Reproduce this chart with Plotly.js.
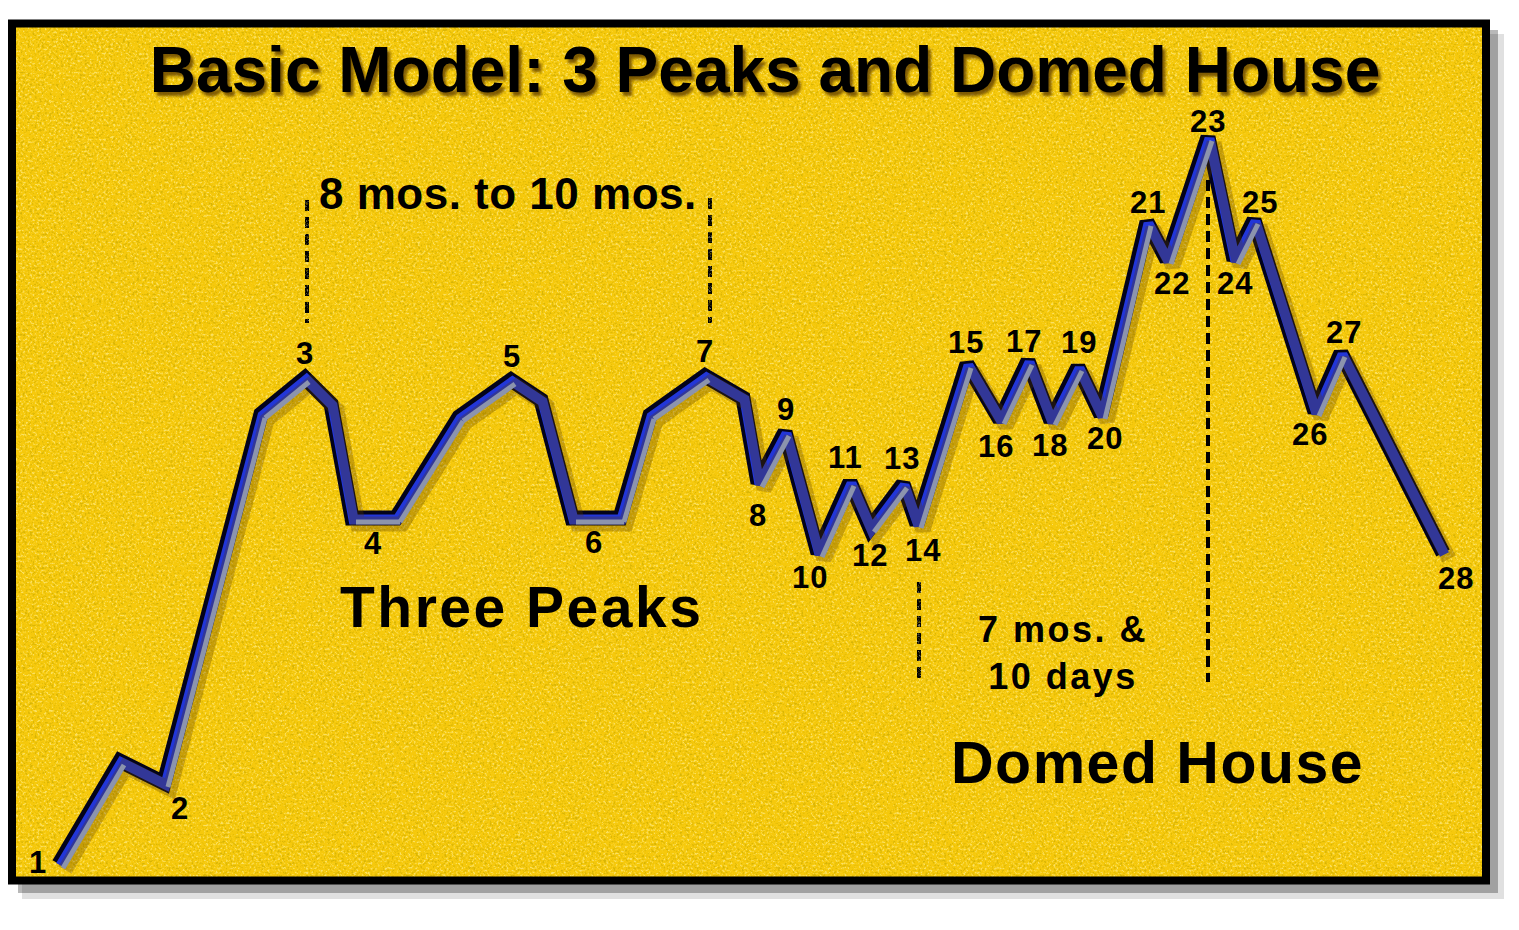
<!DOCTYPE html>
<html>
<head>
<meta charset="utf-8">
<script src="https://cdn.plot.ly/plotly-3.0.1.min.js"></script>
<style>
html,body{margin:0;padding:0;background:#fff;}
#chart{width:1519px;height:930px;}
.gtitle{ text-shadow: 3px 4px 3px rgba(105,70,0,0.85); }
</style>
</head>
<body>
<div id="chart"></div>
<script>
// ---- data: vertices of the schematic path (time units, level units) ----
const pathX = [43,104,148,245,289,315,336,380,443,495,525,556,604,634,689,727,742,769,802,834,854,887,901,951,984,1012,1035,1062,1085,1131,1151,1192,1218,1238,1299,1325,1427];
const pathY = [13,116,94,463,499,473,359,359,460,497,477,359,359,462,501,479,394,445,324,395,349,393,353,513,457,516,456,510,462,655,617,740,617,657,465,524,324];
const pointLabels = ['1','','2','','3','','4','','','5','','6','','','7','','8','9','10','11','12','13','14','15','16','17','18','19','20','21','22','23','24','25','26','27','28'];

// label offsets (pixels: right, up) for the numbered points
const labelDX = [-21,0,16,0,0,0,21,0,0,1,0,22,0,0,0,0,0,1,-8,-5,0,-1,6,-1,-4,-4,-1,1,4,1,5,0,1,6,-5,3,13];
const labelDY = [2,0,-25,0,25,0,-25,0,0,24,0,-24,0,0,25,0,-32,23,-24,25,-27,26,-26,22,-26,20,-24,25,-23,20,-23,16,-23,18,-22,21,-25];

// text captions
const titleText = 'Basic Model: 3 Peaks and Domed House';
const captions = [
  {text:'8 mos. to 10 mos.', x:492, y:684, size:44, spacing:0.5},
  {text:'Three Peaks', x:505, y:270, size:57, spacing:2.5},
  {text:'7 mos. &<br>10 days', x:1047, y:224, size:36, spacing:2.5},
  {text:'Domed House', x:1141, y:114, size:59, spacing:1.5}
];
// dashed time markers: [x, yTop, yBottom, layer]
const markers = [
  [291, 677, 554, 'below'],
  [694, 679, 554, 'below'],
  [903, 295, 195, 'below'],
  [1192, 697, 195, 'above']
];

// ---- layout geometry ----
const W = 1519, H = 930;
const mL = 16, mR = 37, mT = 27, mB = 53;
const PW = W - mL - mR, PH = H - mT - mB;
const px2paperX = p => (p - mL) / PW;
const px2paperY = p => (H - mB - p) / PH;
const FONT = 'Liberation Sans, Arial, Helvetica, sans-serif';

// rising / flat segments get the light highlight
const hiX = [], hiY = [];
for (let i = 0; i < pathX.length - 1; i++) {
  if (pathY[i + 1] >= pathY[i]) {
    hiX.push(pathX[i], pathX[i + 1], null);
    hiY.push(pathY[i], pathY[i + 1], null);
  }
}

const traces = [
  {x: pathX, y: pathY, mode: 'lines', xaxis: 'x4', yaxis: 'y4',
   line: {color: 'rgba(90,60,0,0.30)', width: 15}, hoverinfo: 'skip'},
  {x: pathX, y: pathY, mode: 'lines',
   line: {color: '#03031a', width: 15}, hoverinfo: 'skip'},
  {x: pathX, y: pathY, mode: 'lines', xaxis: 'x2', yaxis: 'y2',
   line: {color: '#2236d8', width: 10}, hoverinfo: 'skip'},
  {x: hiX, y: hiY, mode: 'lines', xaxis: 'x3', yaxis: 'y3', connectgaps: false,
   line: {color: '#a2baf8', width: 5}, hoverinfo: 'skip'}
];

const baseAxis = {visible: false, showgrid: false, zeroline: false, fixedrange: true};
function shiftedX(d) { return Object.assign({}, baseAxis, {range: [0 - d, PW - d], overlaying: 'x'}); }
function shiftedY(d) { return Object.assign({}, baseAxis, {range: [0 + d, PH + d], overlaying: 'y'}); }

const annotations = [];
pointLabels.forEach((t, i) => {
  if (!t) return;
  annotations.push({x: pathX[i], y: pathY[i], xref: 'x', yref: 'y',
    text: '<span style="letter-spacing:1px">' + t + '</span>', showarrow: false,
    xshift: labelDX[i], yshift: labelDY[i], xanchor: 'center', yanchor: 'middle',
    font: {family: FONT, size: 31, color: '#000', weight: 'bold'}});
});
captions.forEach(c => {
  const txt = c.text.split('<br>').map(s => '<span style="letter-spacing:' + c.spacing + 'px">' + s + '</span>').join('<br>');
  annotations.push({x: c.x, y: c.y, xref: 'x', yref: 'y', text: txt, showarrow: false,
    xanchor: 'center', yanchor: 'middle', align: 'center',
    font: {family: FONT, size: c.size, color: '#000', weight: 'bold'}});
});

const shapes = [];
function poly(pts) {
  return 'M' + pts.map(p => px2paperX(p[0]).toFixed(5) + ',' + px2paperY(p[1]).toFixed(5)).join(' L') + ' Z';
}
// outer drop shadow (outside the frame)
shapes.push({type: 'path', xref: 'paper', yref: 'paper', layer: 'below', line: {width: 0},
  fillcolor: 'rgba(0,0,0,0.12)',
  path: poly([[1488,34],[1504,34],[1504,899],[22,899],[22,882],[1488,882]])});
shapes.push({type: 'path', xref: 'paper', yref: 'paper', layer: 'below', line: {width: 0},
  fillcolor: 'rgba(0,0,0,0.28)',
  path: poly([[1488,30],[1498,30],[1498,893],[18,893],[18,882],[1488,882]])});
// black frame
shapes.push({type: 'rect', xref: 'paper', yref: 'paper', layer: 'above',
  x0: px2paperX(12), x1: px2paperX(1486), y0: px2paperY(880.5), y1: px2paperY(23.5),
  line: {color: '#000', width: 8}, fillcolor: 'rgba(0,0,0,0)'});
markers.forEach(m => {
  shapes.push({type: 'line', xref: 'x', yref: 'y', layer: m[3],
    x0: m[0], x1: m[0], y0: m[1], y1: m[2],
    line: {color: '#000', width: 4, dash: '11px,6px'}});
});

// paper texture (speckled yellow card)
const texSvg = "<svg xmlns='http://www.w3.org/2000/svg' width='" + PW + "' height='" + PH + "'>" +
  "<filter id='f' x='0' y='0' width='100%' height='100%'>" +
  "<feTurbulence type='fractalNoise' baseFrequency='0.42' numOctaves='3' seed='7' result='t'/>" +
  "<feColorMatrix in='t' type='matrix' result='d' values='0 0 0 0 0.50  0 0 0 0 0.36  0 0 0 0 0  5 0 0 0 -2.75'/>" +
  "<feColorMatrix in='t' type='matrix' result='l' values='0 0 0 0 1  0 0 0 0 0.95  0 0 0 0 0.50  -5 0 0 0 2.2'/>" +
  "<feMerge><feMergeNode in='d'/><feMergeNode in='l'/></feMerge>" +
  "</filter><rect width='100%' height='100%' filter='url(#f)'/></svg>";

const layout = {
  width: W, height: H,
  margin: {l: mL, r: mR, t: mT, b: mB, pad: 0},
  paper_bgcolor: '#ffffff',
  plot_bgcolor: '#f6c90c',
  showlegend: false,
  hovermode: false,
  title: {text: titleText, x: 765 / W, xanchor: 'center', y: 1 - 70 / H, yanchor: 'middle',
    xref: 'container', yref: 'container',
    font: {family: FONT, size: 64, color: '#000', weight: 'bold'}},
  xaxis: Object.assign({}, baseAxis, {range: [0, PW]}),
  yaxis: Object.assign({}, baseAxis, {range: [0, PH]}),
  xaxis2: shiftedX(1.5), yaxis2: shiftedY(1.5),
  xaxis3: shiftedX(4), yaxis3: shiftedY(4),
  xaxis4: shiftedX(6), yaxis4: shiftedY(6),
  images: [{source: 'data:image/svg+xml;charset=utf-8,' + encodeURIComponent(texSvg),
    xref: 'x', yref: 'y', x: 0, y: PH, sizex: PW, sizey: PH, sizing: 'stretch',
    xanchor: 'left', yanchor: 'top', layer: 'below', opacity: 0.5}],
  annotations: annotations,
  shapes: shapes
};

Plotly.newPlot('chart', traces, layout, {displayModeBar: false, staticPlot: true});
</script>
</body>
</html>
